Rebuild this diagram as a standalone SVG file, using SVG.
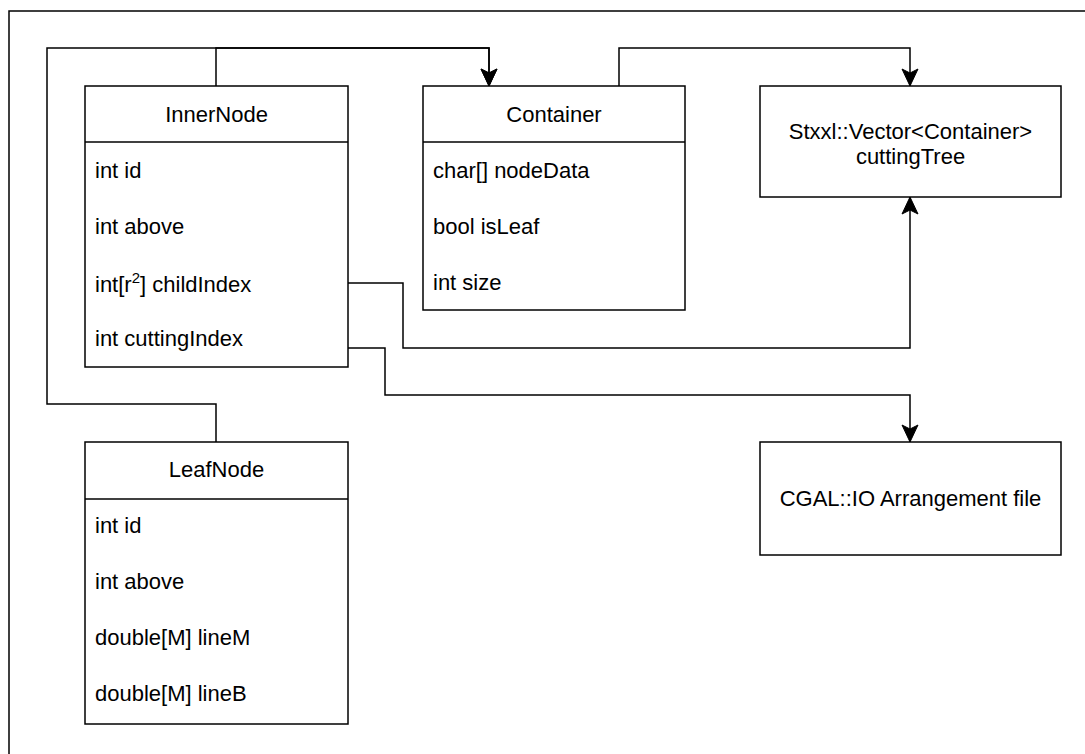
<svg xmlns="http://www.w3.org/2000/svg" width="1085" height="754" viewBox="0 0 1085 754">
  <defs>
    <style>
      .box { fill: #ffffff; stroke: #000000; stroke-width: 1.5; }
      .sep { fill: none; stroke: #000000; stroke-width: 1.5; }
      .edge { fill: none; stroke: #000000; stroke-width: 1.5; }
      .frame { fill: none; stroke: #000000; stroke-width: 1.5; }
      text { font-family: "Liberation Sans", Arial, Helvetica, sans-serif; font-size: 22px; fill: #000000; }
      .title { text-anchor: middle; }
      .center { text-anchor: middle; }
    </style>
    <!-- classic block arrowhead, tip at the path end -->
    <marker id="arrow" viewBox="-18 -9 19 18" refX="0" refY="0" markerWidth="19" markerHeight="18" markerUnits="userSpaceOnUse" orient="auto">
      <path d="M0,0 L-17,-8 L-13,0 L-17,8 Z" fill="#000000" stroke="#000000" stroke-width="1" stroke-linejoin="miter"/>
    </marker>
  </defs>

  <rect x="0" y="0" width="1085" height="754" fill="#ffffff"/>

  <!-- outer frame (extends past the page on the right and bottom) -->
  <path class="frame" d="M9,760 V11 H1090"/>

  <!-- connectors -->
  <g id="connectors">
    <path class="edge" d="M216,442 V404 H47 V48 H489 V86" marker-end="url(#arrow)"/>
    <path class="edge" d="M216,86 V48 H489 V86" marker-end="url(#arrow)"/>
    <path class="edge" d="M619,86 V48 H910 V86" marker-end="url(#arrow)"/>
    <path class="edge" d="M348,283 H403 V348 H910 V197" marker-end="url(#arrow)"/>
    <path class="edge" d="M348,348 H385 V395 H910 V442" marker-end="url(#arrow)"/>
  </g>

  <!-- InnerNode class -->
  <g id="InnerNode">
    <rect class="box" x="85" y="86" width="263" height="281"/>
    <line class="sep" x1="85" y1="142" x2="348" y2="142"/>
    <text class="title" x="216.5" y="122">InnerNode</text>
    <text x="95" y="178">int id</text>
    <text x="95" y="234">int above</text>
    <text x="95" y="292">int[r<tspan font-size="15" dy="-9">2</tspan><tspan dy="9">] childIndex</tspan></text>
    <text x="95" y="346">int cuttingIndex</text>
  </g>

  <!-- Container class -->
  <g id="Container">
    <rect class="box" x="423" y="86" width="262" height="224"/>
    <line class="sep" x1="423" y1="142" x2="685" y2="142"/>
    <text class="title" x="554" y="122">Container</text>
    <text x="433" y="178">char[] nodeData</text>
    <text x="433" y="234">bool isLeaf</text>
    <text x="433" y="290">int size</text>
  </g>

  <!-- external vector storage -->
  <g id="CuttingTree">
    <rect class="box" x="760" y="86" width="301" height="111"/>
    <text class="center" x="910.5" y="139">Stxxl::Vector&lt;Container&gt;</text>
    <text class="center" x="910.5" y="164">cuttingTree</text>
  </g>

  <!-- arrangement file -->
  <g id="ArrangementFile">
    <rect class="box" x="760" y="442" width="301" height="113"/>
    <text class="center" x="910.5" y="506">CGAL::IO Arrangement file</text>
  </g>

  <!-- LeafNode class -->
  <g id="LeafNode">
    <rect class="box" x="85" y="442" width="263" height="282"/>
    <line class="sep" x1="85" y1="499" x2="348" y2="499"/>
    <text class="title" x="216.5" y="477">LeafNode</text>
    <text x="95" y="533">int id</text>
    <text x="95" y="589">int above</text>
    <text x="95" y="645">double[M] lineM</text>
    <text x="95" y="701">double[M] lineB</text>
  </g>
</svg>
